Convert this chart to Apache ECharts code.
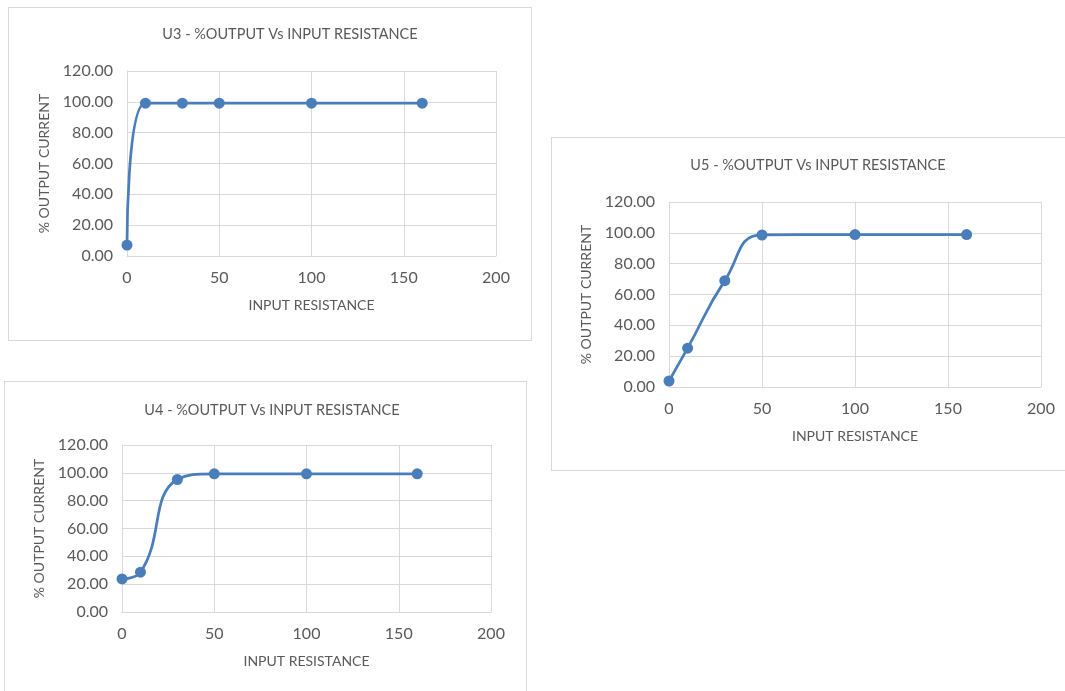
<!DOCTYPE html>
<html><head><meta charset="utf-8">
<script src="https://cdn.jsdelivr.net/npm/echarts@6/dist/echarts.min.js"></script>
<style>
body{margin:0;width:1065px;height:691px;background:#fff;position:relative;overflow:hidden;font-family:Lato,"Open Sans",sans-serif}
.box{position:absolute;border:1px solid #d9d9d9;box-sizing:border-box;background:#fff}
</style></head><body>
<div id="u3" class="box" style="left:8px;top:7px;width:524px;height:334px"></div>
<div id="u5" class="box" style="left:551px;top:137px;width:520px;height:334px"></div>
<div id="u4" class="box" style="left:4px;top:381px;width:523px;height:320px"></div>
<script>
const xTicks = [0, 50, 100, 150, 200];
const yTicks = [0, 20, 40, 60, 80, 100, 120];
const resistance = [0, 10, 30, 50, 100, 160];
const u3Output = [7.1, 99.1, 99.1, 99.1, 99.1, 99.1];
const u4Output = [23.8, 28.6, 95.2, 99.3, 99.3, 99.3];
const u5Output = [3.9, 25.2, 69.0, 98.6, 98.9, 98.9];
const titles = {u3:'U3 - %OUTPUT Vs INPUT RESISTANCE', u4:'U4 - %OUTPUT Vs INPUT RESISTANCE', u5:'U5 - %OUTPUT Vs INPUT RESISTANCE'};

function make(id, ys, grid, titleTop, titleCenter){
  const c = echarts.init(document.getElementById(id));
  const txt = '#595959';
  const font = 'Lato';
  c.setOption({
    animation:false,
    title:{text:titles[id], left: titleCenter, textAlign:'center', top:titleTop,
      textStyle:{fontFamily:font,fontSize:14.5,fontWeight:'normal',color:txt}},
    grid:{left:grid.left, top:grid.top, width:grid.width, height:grid.height},
    xAxis:{type:'value', min:xTicks[0], max:xTicks[xTicks.length-1], interval:50,
      name:'INPUT RESISTANCE', nameLocation:'middle', nameGap:42,
      nameTextStyle:{fontFamily:font,fontSize:14,color:txt},
      axisLine:{show:true,lineStyle:{color:'#d9d9d9'}}, axisTick:{show:false},
      axisLabel:{fontFamily:font,fontSize:16,color:txt,margin:14},
      splitLine:{show:true,lineStyle:{color:'#d9d9d9'}}},
    yAxis:{type:'value', min:yTicks[0], max:yTicks[yTicks.length-1], interval:20,
      name:'% OUTPUT CURRENT', nameLocation:'middle', nameGap:75,
      nameTextStyle:{fontFamily:font,fontSize:14,color:txt},
      axisLine:{show:true,lineStyle:{color:'#d9d9d9'}}, axisTick:{show:false},
      axisLabel:{fontFamily:font,fontSize:16,color:txt,margin:14,formatter:v=>v.toFixed(2)},
      splitLine:{show:true,lineStyle:{color:'#d9d9d9'}}},
    series:[{type:'line', data:resistance.map((x,i)=>[x,ys[i]]), smooth:0.5,
      symbol:'circle', symbolSize:11,
      lineStyle:{color:'#4a7ebb',width:2.75}, itemStyle:{color:'#4a7ebb'}}]
  });
}
make('u3', u3Output, {left:118, top:63, width:369, height:185}, 14, 276);
make('u5', u5Output, {left:117, top:64, width:372, height:185}, 15, 261);
make('u4', u4Output, {left:117, top:63, width:369, height:167}, 16, 262);
</script></body></html>
